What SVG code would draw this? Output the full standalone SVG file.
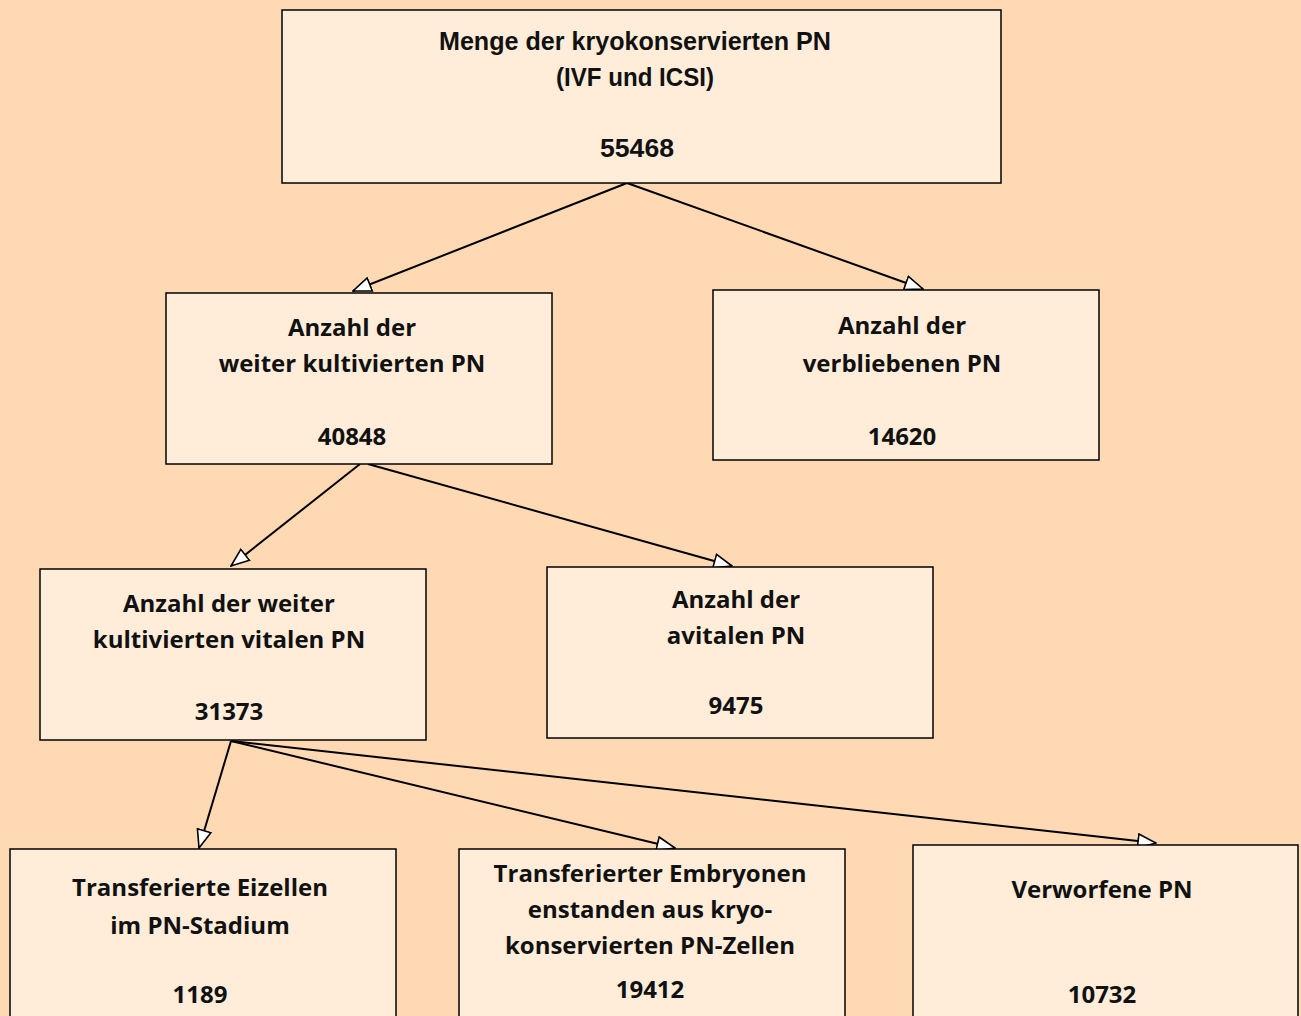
<svg xmlns="http://www.w3.org/2000/svg" width="1301" height="1016" viewBox="0 0 1301 1016">
<style>
.box{fill:#FFEDD9;stroke:#000;stroke-width:1.5}
.t{font-family:"Open Sans","Liberation Sans",sans-serif;font-weight:700;font-size:24px;fill:#111;text-anchor:middle}
.c{font-family:"Liberation Sans",sans-serif;font-weight:700;font-size:26px;fill:#111;text-anchor:middle}
.e{stroke:#000;stroke-width:2;fill:none;marker-end:url(#ah)}
</style>
<defs>
<marker id="ah" viewBox="0 0 20 16" refX="19" refY="8" markerWidth="20" markerHeight="16" markerUnits="userSpaceOnUse" orient="auto">
<path d="M1,1 L19,8 L1,15 Z" fill="#fff" stroke="#000" stroke-width="1.6"/>
</marker>
</defs>
<rect width="1301" height="1016" fill="#FFD9B3"/>
<g id="connectors">
<line class="e" x1="627" y1="183" x2="353" y2="291"/>
<line class="e" x1="627" y1="183" x2="923" y2="289"/>
<line class="e" x1="360" y1="464" x2="231" y2="566"/>
<line class="e" x1="368" y1="464" x2="732" y2="566"/>
<line class="e" x1="231" y1="741" x2="199" y2="848"/>
<line class="e" x1="231" y1="741" x2="675" y2="848"/>
<line class="e" x1="231" y1="741" x2="1156" y2="843"/>
</g>
<g id="n0">
<rect class="box" x="282" y="10" width="719" height="173"/>
<text class="c" x="635" y="50" textLength="392" lengthAdjust="spacingAndGlyphs">Menge der kryokonservierten PN</text>
<text class="c" x="635" y="86" textLength="158" lengthAdjust="spacingAndGlyphs">(IVF und ICSI)</text>
<text class="c" x="637" y="157" textLength="74" lengthAdjust="spacingAndGlyphs">55468</text>
</g>
<g id="n1">
<rect class="box" x="166" y="293" width="386" height="171"/>
<text class="t" x="352" y="336">Anzahl der</text>
<text class="t" x="352" y="372">weiter kultivierten PN</text>
<text class="t" x="352" y="445">40848</text>
</g>
<g id="n2">
<rect class="box" x="713" y="290" width="386" height="170"/>
<text class="t" x="902" y="334">Anzahl der</text>
<text class="t" x="902" y="372">verbliebenen PN</text>
<text class="t" x="902" y="445">14620</text>
</g>
<g id="n3">
<rect class="box" x="40" y="569" width="386" height="171"/>
<text class="t" x="229" y="612">Anzahl der weiter</text>
<text class="t" x="229" y="648">kultivierten vitalen PN</text>
<text class="t" x="229" y="720">31373</text>
</g>
<g id="n4">
<rect class="box" x="547" y="567" width="386" height="171"/>
<text class="t" x="736" y="608">Anzahl der</text>
<text class="t" x="736" y="644">avitalen PN</text>
<text class="t" x="736" y="714">9475</text>
</g>
<g id="n5">
<rect class="box" x="10" y="849" width="386" height="180"/>
<text class="t" x="200" y="896">Transferierte Eizellen</text>
<text class="t" x="200" y="934">im PN-Stadium</text>
<text class="t" x="200" y="1003">1189</text>
</g>
<g id="n6">
<rect class="box" x="459" y="849" width="386" height="180"/>
<text class="t" x="650" y="882">Transferierter Embryonen</text>
<text class="t" x="650" y="918">enstanden aus kryo-</text>
<text class="t" x="650" y="954">konservierten PN-Zellen</text>
<text class="t" x="650" y="998">19412</text>
</g>
<g id="n7">
<rect class="box" x="913" y="845" width="385" height="184"/>
<text class="t" x="1102" y="898">Verworfene PN</text>
<text class="t" x="1102" y="1003">10732</text>
</g>
</svg>
